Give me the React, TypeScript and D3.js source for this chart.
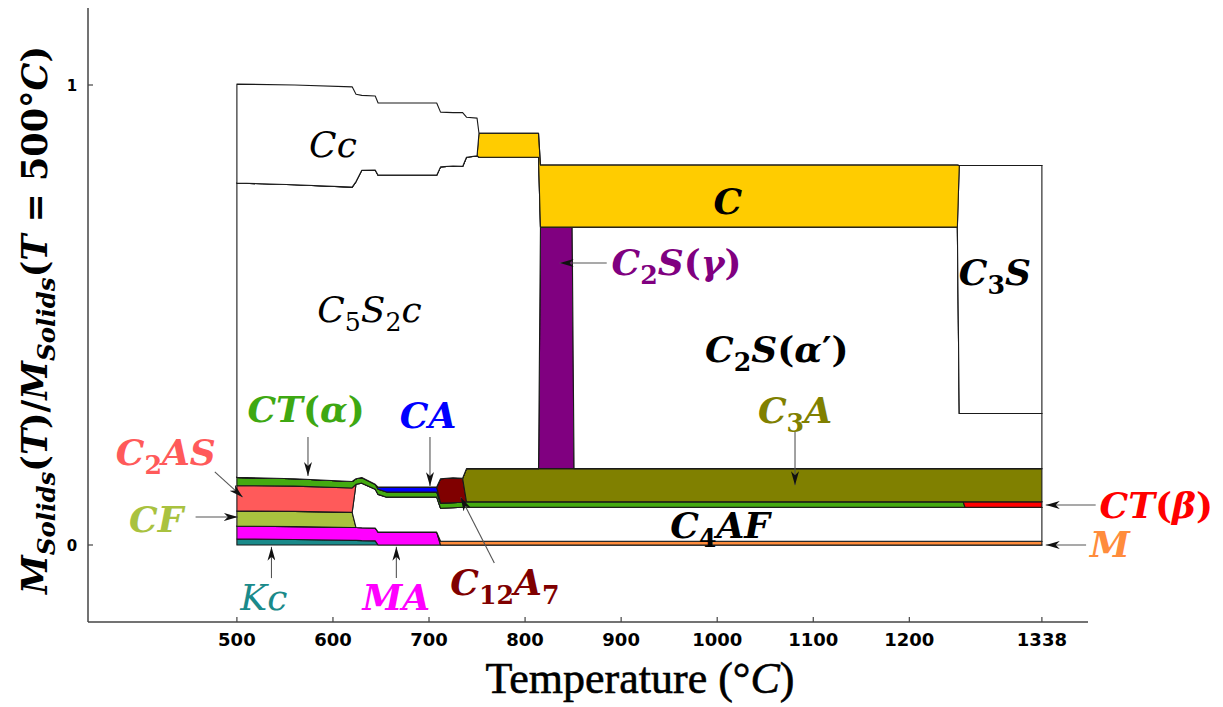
import React from 'react';
import * as d3 from 'd3';

// temperature grid (°C) — duplicated neighbours give the sharp phase transitions
const temps = [500, 560, 620, 624, 630, 644, 647, 656, 708, 712, 725, 735, 739, 750, 752, 814, 816, 849, 851, 1000, 1150, 1250, 1252, 1256, 1258, 1338];

// mass fraction of each phase (relative to solids at 500°C)
const Kc = [0.013, 0.012, 0.010, 0.010, 0.0095, 0.009, 0, 0, 0, 0, 0, 0, 0, 0, 0, 0, 0, 0, 0, 0, 0, 0, 0, 0, 0, 0];
const MA = [0.028, 0.028, 0.028, 0.028, 0.028, 0.028, 0.028, 0.028, 0.028, 0, 0, 0, 0, 0, 0, 0, 0, 0, 0, 0, 0, 0, 0, 0, 0, 0];
const M = [0, 0, 0, 0, 0, 0, 0, 0, 0, 0.008, 0.008, 0.008, 0.008, 0.008, 0.008, 0.008, 0.008, 0.008, 0.008, 0.008, 0.008, 0.008, 0.008, 0.008, 0.008, 0.008];
const CF = [0.033, 0.033, 0.033, 0, 0, 0, 0, 0, 0, 0, 0, 0, 0, 0, 0, 0, 0, 0, 0, 0, 0, 0, 0, 0, 0, 0];
const C4AF = [0, 0, 0, 0.094, 0.097, 0.084, 0.082, 0.076, 0.076, 0.072, 0.073, 0.074, 0.074, 0.074, 0.074, 0.074, 0.074, 0.074, 0.074, 0.074, 0.074, 0.074, 0.074, 0.074, 0.074, 0.074];
const C2AS = [0.055, 0.055, 0.053, 0, 0, 0, 0, 0, 0, 0, 0, 0, 0, 0, 0, 0, 0, 0, 0, 0, 0, 0, 0, 0, 0, 0];
const CTa = [0.018, 0.016, 0.014, 0.012, 0.012, 0.011, 0.011, 0.011, 0.011, 0.011, 0.011, 0.011, 0.012, 0.012, 0.012, 0.012, 0.012, 0.012, 0.012, 0.012, 0.012, 0.012, 0.012, 0.012, 0, 0];
const CTb = [0, 0, 0, 0, 0, 0, 0, 0, 0, 0, 0, 0, 0, 0, 0, 0, 0, 0, 0, 0, 0, 0, 0, 0, 0.012, 0.012];
const CA = [0, 0, 0, 0, 0, 0, 0.005, 0.011, 0.011, 0, 0, 0, 0, 0, 0, 0, 0, 0, 0, 0, 0, 0, 0, 0, 0, 0];
const C12A7 = [0, 0, 0, 0, 0, 0, 0, 0, 0, 0.053, 0.054, 0.052, 0, 0, 0, 0, 0, 0, 0, 0, 0, 0, 0, 0, 0, 0];
const C3A = [0, 0, 0, 0, 0, 0, 0, 0, 0, 0, 0, 0, 0.072, 0.072, 0.072, 0.072, 0.072, 0.072, 0.072, 0.072, 0.072, 0.072, 0.072, 0.072, 0.072, 0.072];
const C2Sg = [0, 0, 0, 0, 0, 0, 0, 0, 0, 0, 0, 0, 0, 0, 0, 0, 0.525, 0.525, 0, 0, 0, 0, 0, 0, 0, 0];
const C2Sa = [0, 0, 0, 0, 0, 0, 0, 0, 0, 0, 0, 0, 0, 0, 0, 0, 0, 0, 0.525, 0.525, 0.525, 0.525, 0.120, 0.120, 0.120, 0.120];
const C5S2c = [0.640, 0.639, 0.640, 0.646, 0.668, 0.683, 0.678, 0.678, 0.678, 0.678, 0.678, 0.678, 0.677, 0.680, 0.677, 0.677, 0, 0, 0, 0, 0, 0, 0, 0, 0, 0];
const C3S = [0, 0, 0, 0, 0, 0, 0, 0, 0, 0, 0, 0, 0, 0, 0, 0, 0, 0, 0, 0, 0, 0, 0.539, 0.539, 0.539, 0.539];
const C = [0, 0, 0, 0, 0, 0, 0, 0, 0, 0, 0, 0, 0, 0, 0.052, 0.052, 0.135, 0.135, 0.135, 0.135, 0.135, 0.135, 0, 0, 0, 0];
const Cc = [0.215, 0.217, 0.218, 0.190, 0.163, 0.161, 0.157, 0.157, 0.157, 0.119, 0.116, 0.117, 0.087, 0.082, 0, 0, 0, 0, 0, 0, 0, 0, 0, 0, 0, 0];

const xTicks = [500, 600, 700, 800, 900, 1000, 1100, 1200, 1338];
const yTicks = [0, 1];

const series: [string, number[]][] = [
  ['Kc', Kc], ['MA', MA], ['M', M], ['CF', CF], ['C4AF', C4AF], ['C2AS', C2AS],
  ['CTa', CTa], ['CTb', CTb], ['CA', CA], ['C12A7', C12A7], ['C3A', C3A],
  ['C2Sg', C2Sg], ['C2Sa', C2Sa], ['C5S2c', C5S2c], ['C3S', C3S], ['C', C], ['Cc', Cc],
];

const fills: Record<string, string> = {
  Kc: '#1a8a8a', MA: '#ff00ff', M: '#ff8c3c', CF: '#a9c23f', C4AF: '#ffffff',
  C2AS: '#ff5a5a', CTa: '#44aa11', CTb: '#ff0000', CA: '#0000ff', C12A7: '#800000',
  C3A: '#808000', C2Sg: '#800080', C2Sa: '#ffffff', C5S2c: '#ffffff', C3S: '#ffffff',
  C: '#ffcc00', Cc: '#ffffff',
};

// labels: [text, T, value, anchor, color, bold]
const labels: [string, number, number, string, string, boolean][] = [
  ['Cc', 600, 0.843, 'middle', '#000', false],
  ['C', 1011, 0.72, 'middle', '#000', true],
  ['C_2S(\u03b3)', 890, 0.587, 'start', '#800080', true],
  ['C_5S_2c', 638, 0.485, 'middle', '#000', false],
  ['C_3S', 1289, 0.565, 'middle', '#000', true],
  ['C_2S(\u03b1\u2032)', 1062, 0.398, 'middle', '#000', true],
  ['C_3A', 1081, 0.265, 'middle', '#808000', true],
  ['CT(\u03b1)', 572, 0.267, 'middle', '#3ea812', true],
  ['CA', 699, 0.254, 'middle', '#0000ff', true],
  ['C_2AS', 426, 0.174, 'middle', '#ff5a5a', true],
  ['CF', 416, 0.028, 'middle', '#a9c23f', true],
  ['C_4AF', 1003, 0.015, 'middle', '#000', true],
  ['CT(\u03b2)', 1398, 0.059, 'start', '#ff0000', true],
  ['M', 1388, -0.026, 'start', '#ff8c3c', true],
  ['Kc', 528, -0.141, 'middle', '#1a8a8a', false],
  ['MA', 666, -0.141, 'middle', '#ff00ff', true],
  ['C_{12}A_7', 779, -0.109, 'middle', '#800000', true],
];

// arrows: [T0, v0, T1, v1]
const arrows: [number, number, number, number][] = [
  [885, 0.613, 836, 0.613],
  [1081, 0.246, 1081, 0.130],
  [1394, 0.087, 1342, 0.087],
  [1384, 0, 1342, 0],
  [477, 0.159, 506, 0.104],
  [574, 0.235, 574, 0.150],
  [701, 0.235, 701, 0.128],
  [457, 0.061, 501, 0.061],
  [536, -0.072, 536, -0.004],
  [666, -0.072, 666, -0.004],
  [768, -0.039, 733, 0.104],
];

type Seg = { t: string; sub: boolean; up: boolean };
function parseMath(s: string): Seg[] {
  const out: Seg[] = [];
  let i = 0;
  while (i < s.length) {
    let sub = false;
    let chunk = '';
    if (s[i] === '_') {
      sub = true; i++;
      if (s[i] === '{') { const j = s.indexOf('}', i); chunk = s.slice(i + 1, j); i = j + 1; }
      else { chunk = s[i]; i++; }
    } else { chunk = s[i]; i++; }
    for (const ch of chunk) {
      const up = !/[A-Za-z\u03b1-\u03c9]/.test(ch);
      const last = out[out.length - 1];
      if (last && last.sub === sub && last.up === up) last.t += ch;
      else out.push({ t: ch, sub, up });
    }
  }
  return out;
}

const mathFont = '"DejaVu Serif", serif';
const tickFont = '"DejaVu Sans", sans-serif';

function MathText({ s, size }: { s: string; size: number }) {
  const segs = parseMath(s);
  const shift = size * 0.24;
  return (
    <>
      {segs.map((g, k) => {
        const prevSub = k > 0 && segs[k - 1].sub;
        const dy = g.sub && !prevSub ? shift : !g.sub && prevSub ? -shift : 0;
        return (
          <tspan key={k} dy={dy || undefined} fontSize={g.sub ? size * 0.7 : size} fontStyle={g.up ? 'normal' : 'italic'}>
            {g.t}
          </tspan>
        );
      })}
    </>
  );
}

const W = 1223;
const H = 707;

export default function App() {
  const x = d3.scaleLinear().domain([345, 1386]).range([88, 1088]);
  const y = d3.scaleLinear().domain([-0.1674, 1.1674]).range([622, 8]);

  const keys = series.map(s => s[0]);
  const table = temps.map((T, i) => {
    const row: Record<string, number> = { T };
    series.forEach(([k, v]) => { row[k] = v[i]; });
    return row;
  });
  const stacked = d3.stack<Record<string, number>>().keys(keys)(table);
  const area = d3.area<d3.SeriesPoint<Record<string, number>>>()
    .x(d => x(d.data.T))
    .y0(d => y(d[0]))
    .y1(d => y(d[1]));

  const [x0, x1] = x.range();
  const [yb, yt] = y.range();

  return (
    <svg width={W} height={H} style={{ position: 'absolute', left: 0, top: 0, background: '#fff' }}>
      <defs>
        <marker id="ah" viewBox="0 0 14 8" refX="14" refY="4" markerWidth="14" markerHeight="8" markerUnits="userSpaceOnUse" orient="auto">
          <path d="M0,0 L14,4 L0,8 L4,4 Z" fill="#111" />
        </marker>
      </defs>

      {stacked.map(layer => (
        <path key={layer.key} d={area(layer) || ''} fill={fills[layer.key]} stroke="#1a1a1a" strokeWidth={1.1} strokeLinejoin="round" />
      ))}

      {/* spines */}
      <line x1={x0} x2={x0} y1={yt} y2={yb} stroke="#444" strokeWidth={1.5} />
      <line x1={x0} x2={x1} y1={yb} y2={yb} stroke="#444" strokeWidth={1.5} />

      {xTicks.map(t => (
        <g key={t}>
          <line x1={x(t)} x2={x(t)} y1={yb} y2={yb - 5} stroke="#444" strokeWidth={1.2} />
          <text x={x(t)} y={yb + 24} textAnchor="middle" fontFamily={tickFont} fontWeight="bold" fontSize={18}>{t}</text>
        </g>
      ))}
      {yTicks.map(t => (
        <g key={t}>
          <line x1={x0} x2={x0 + 5} y1={y(t)} y2={y(t)} stroke="#444" strokeWidth={1.2} />
          <text x={72} y={y(t) + 6} textAnchor="middle" fontFamily={tickFont} fontWeight="bold" fontSize={15}>{t}</text>
        </g>
      ))}

      {arrows.map((a, i) => (
        <line key={i} x1={x(a[0])} y1={y(a[1])} x2={x(a[2])} y2={y(a[3])} stroke="#555" strokeWidth={1.1} markerEnd="url(#ah)" />
      ))}

      {labels.map(([s, T, v, anchor, color, bold], i) => (
        <text key={i} x={x(T)} y={y(v)} textAnchor={anchor} fill={color} fontFamily={mathFont} fontWeight={bold ? 'bold' : 'normal'}>
          <MathText s={s} size={36} />
        </text>
      ))}

      {/* axis titles */}
      <text x={640} y={693} textAnchor="middle" fontFamily='"Liberation Serif", serif' fontSize={44} fill="#000" stroke="#000" strokeWidth={0.6}>
        <tspan>Temperature (°</tspan><tspan fontStyle="italic">C</tspan><tspan>)</tspan>
      </text>
      <text transform="translate(47,320) rotate(-90)" textAnchor="middle" fontFamily={mathFont} fontWeight="bold" fill="#000">
        <MathText s={'M_{Solids}(T)/M_{Solids}(T = 500°C)'} size={35} />
      </text>
    </svg>
  );
}
